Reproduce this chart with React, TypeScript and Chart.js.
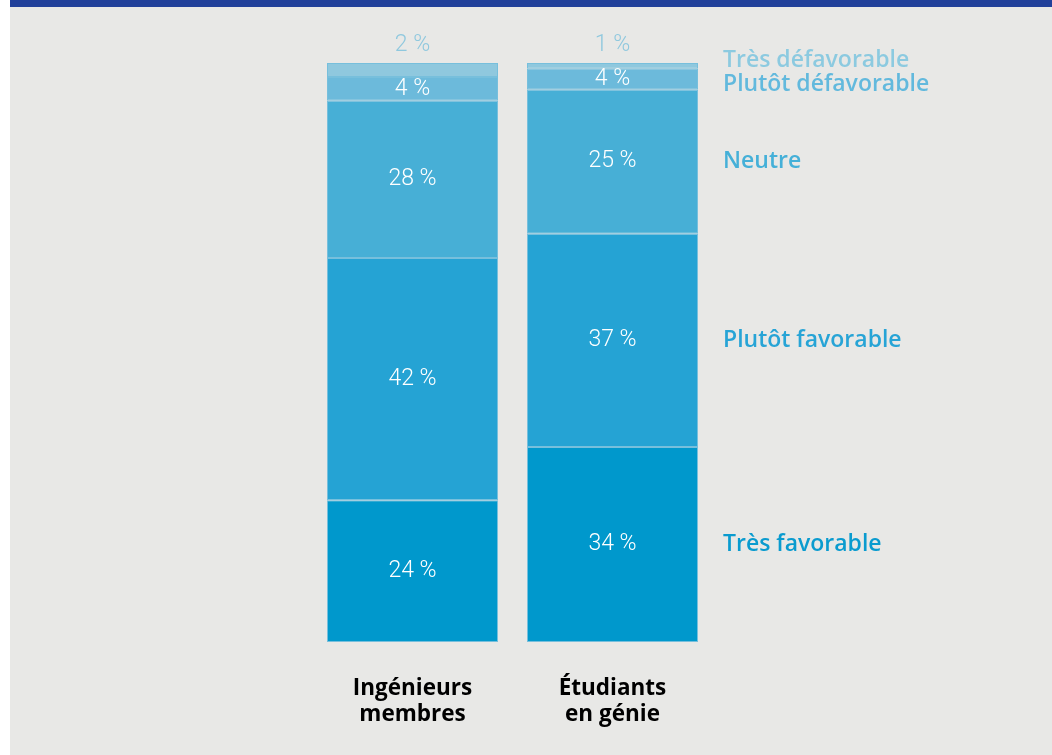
import React, { useEffect, useRef } from "react";
import { Chart, registerables } from "chart.js";

Chart.register(...registerables);

const categories: string[][] = [["Ingénieurs", "membres"], ["Étudiants", "en génie"]];
const seriesNames = ["Très favorable", "Plutôt favorable", "Neutre", "Plutôt défavorable", "Très défavorable"];

const tresFavorable = [24.5, 33.7];
const plutotFavorable = [41.8, 36.8];
const neutre = [27.2, 24.9];
const plutotDefavorable = [4.1, 3.6];
const tresDefavorable = [2.4, 1.0];

const tresFavorableLabels = ["24 %", "34 %"];
const plutotFavorableLabels = ["42 %", "37 %"];
const neutreLabels = ["28 %", "25 %"];
const plutotDefavorableLabels = ["4 %", "4 %"];
const tresDefavorableLabels = ["2 %", "1 %"];

const colors = ["#0098cc", "#25a3d4", "#47afd6", "#6cbadb", "#8fc8de"];
const legendColors = ["#0a9bcf", "#27a4d6", "#45b0d8", "#62b9dd", "#8ccae0"];

export default function App() {
  const ref = useRef<HTMLCanvasElement | null>(null);

  useEffect(() => {
    document.body.style.margin = "0";
    const canvas = ref.current;
    if (!canvas) return;
    const values = [tresFavorable, plutotFavorable, neutre, plutotDefavorable, tresDefavorable];
    const labels = [tresFavorableLabels, plutotFavorableLabels, neutreLabels, plutotDefavorableLabels, tresDefavorableLabels];

    const textPlugin = {
      id: "texts",
      afterDatasetsDraw(chart: any) {
        const ctx = chart.ctx as CanvasRenderingContext2D;
        ctx.save();
        ctx.textAlign = "center";
        ctx.textBaseline = "middle";
        const top = values.length - 1;
        values.forEach((_, di) => {
          const meta = chart.getDatasetMeta(di);
          meta.data.forEach((el: any, i: number) => {
            const p = el.getProps(["x", "y", "base"], true);
            ctx.font = "300 23px Roboto";
            if (di === top) {
              ctx.fillStyle = colors[top];
              ctx.fillText(labels[di][i], p.x, Math.min(p.y, p.base) - 18);
            } else {
              ctx.fillStyle = "#ffffff";
              ctx.fillText(labels[di][i], p.x, (p.y + p.base) / 2);
            }
          });
        });
        const lx = chart.chartArea.right + 10.5;
        const ys: number[] = values.map((_, di) => {
          const el: any = chart.getDatasetMeta(di).data[1];
          const p = el.getProps(["y", "base"], true);
          return (p.y + p.base) / 2;
        });
        const minGap = 24;
        for (let k = 0; k < 3; k++) {
          for (let di = top; di > 0; di--) {
            const upper = ys[di];
            const lower = ys[di - 1];
            if (lower - upper < minGap) {
              const mid = (upper + lower) / 2;
              ys[di] = mid - minGap / 2;
              ys[di - 1] = mid + minGap / 2;
            }
          }
        }
        ctx.textAlign = "left";
        ctx.font = "600 23px 'Open Sans'";
        seriesNames.forEach((name, di) => {
          ctx.fillStyle = legendColors[di];
          ctx.fillText(name, lx, ys[di]);
        });
        ctx.textAlign = "center";
        ctx.fillStyle = "#000000";
        ctx.font = "700 22.5px 'Open Sans'";
        const meta0 = chart.getDatasetMeta(0);
        meta0.data.forEach((el: any, i: number) => {
          const p = el.getProps(["x", "base"], true);
          categories[i].forEach((line, li) => {
            ctx.fillText(line, p.x, p.base + 47 + li * 26);
          });
        });
        ctx.restore();
      },
    };

    const chart = new Chart(canvas, {
      type: "bar",
      data: {
        labels: categories.map((c) => c.join(" ")),
        datasets: seriesNames.map((name, di) => ({
          label: name,
          data: values[di],
          backgroundColor: colors[di],
          borderColor: "rgba(90,180,218,0.8)",
          borderWidth: 1,
          borderSkipped: false,
          barPercentage: 0.855,
          categoryPercentage: 1,
        })),
      },
      options: {
        animation: false,
        responsive: false,
        devicePixelRatio: 1,
        layout: { padding: { left: 302.5, right: 339.5, top: 63, bottom: 113 } },
        plugins: { legend: { display: false }, tooltip: { enabled: false }, title: { display: false } },
        scales: {
          x: { stacked: true, display: false },
          y: { stacked: true, display: false, min: 0, max: 100 },
        },
      },
      plugins: [textPlugin],
    } as any);
    return () => chart.destroy();
  }, []);

  return (
    <div style={{ position: "relative", width: 1052, height: 755, background: "#ffffff", overflow: "hidden" }}>
      <div style={{ position: "absolute", left: 10, top: 0, width: 1042, height: 755, background: "#e8e8e6" }} />
      <div style={{ position: "absolute", left: 10, top: 0, width: 1042, height: 7, background: "#21409a", zIndex: 2 }} />
      <canvas ref={ref} width={1042} height={755} style={{ position: "absolute", left: 10, top: 0, width: 1042, height: 755 }} />
    </div>
  );
}
